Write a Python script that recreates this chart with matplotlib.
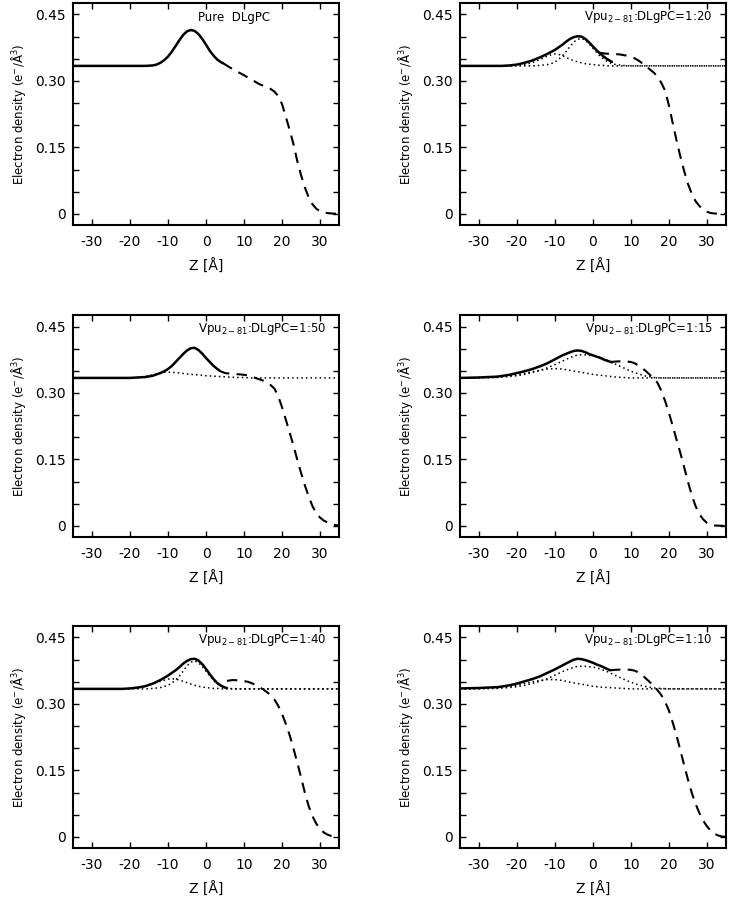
import matplotlib
matplotlib.use("Agg")
import matplotlib.pyplot as plt
from matplotlib.ticker import MultipleLocator, FixedLocator

plt.rcParams['font.family'] = ['DejaVu Sans']
plt.rcParams['axes.unicode_minus'] = False

# ---------------- data ----------------
# Panel 1 : Pure DLgPC
z_head_pure = [-35, -16, -14, -13, -12, -11, -10, -9, -8, -7, -6, -5, -4, -3, -2, -1, 0, 1, 2, 3, 4, 4.5]
rho_head_pure = [.334, .334, .335, .337, .341, .347, .355, .366, .379, .392, .404, .412, .415, .413, .406, .395, .382, .368, .357, .348, .342, .340]
z_water_pure = [4.5, 6, 8, 10, 12, 14, 16, 17, 18, 19, 20, 21, 22, 23, 24, 25, 26, 27, 28, 29, 30, 31, 32, 33, 35]
rho_water_pure = [.340, .332, .322, .313, .303, .293, .286, .282, .276, .266, .248, .219, .190, .158, .120, .088, .060, .038, .022, .012, .006, .003, .002, .001, 0]

# Panel 2 : 1:20
z_head_20 = [-35, -24, -22, -20, -18, -16, -14, -12, -10, -8, -7, -6, -5, -4, -3, -2, -1, 0, 1, 2, 3, 4, 5]
rho_head_20 = [.334, .334, .335, .337, .341, .346, .353, .361, .370, .382, .389, .395, .399, .401, .400, .395, .387, .378, .369, .361, .354, .348, .343]
z_water_20 = [1.5, 3, 5, 7, 9, 10, 11, 12, 13, 14, 15, 16, 17, 18, 19, 20, 21, 22, 23, 24, 25, 26, 27, 28, 29, 30, 31, 32, 35]
rho_water_20 = [.364, .362, .361, .360, .357, .355, .351, .346, .340, .333, .326, .319, .310, .296, .278, .245, .205, .166, .130, .097, .068, .046, .029, .018, .010, .005, .002, .001, 0]
z_dot_20 = [-35, -22, -20, -18, -16, -14, -12, -11, -10, -9, -8, -7, -6, -5, -4, -3, -2, -1, 0, 1, 2, 3, 4, 5, 6, 8, 10, 35]
rho_prot_20 = [.334, .334, .335, .337, .341, .348, .356, .359, .361, .360, .357, .353, .349, .346, .343, .341, .339, .338, .337, .336, .335, .335, .334, .334, .334, .334, .334, .334]
rho_lip_20 = [.334, .334, .334, .334, .334, .335, .337, .339, .343, .349, .357, .367, .378, .388, .394, .396, .392, .384, .374, .364, .355, .348, .343, .339, .337, .335, .334, .334]

# Panel 3 : 1:50
z_head_50 = [-35, -20, -16, -14, -12, -11, -10, -9, -8, -7, -6, -5, -4, -3, -2, -1, 0, 1, 2, 3, 3.5]
rho_head_50 = [.334, .334, .336, .339, .345, .349, .354, .361, .370, .379, .388, .396, .401, .402, .397, .389, .379, .370, .361, .354, .351]
z_water_50 = [3.5, 5, 7, 9, 11, 12, 13, 14, 15, 16, 17, 18, 19, 20, 21, 22, 23, 24, 25, 26, 27, 28, 29, 30, 31, 32, 33, 34, 35]
rho_water_50 = [.350, .345, .343, .342, .340, .337, .334, .331, .328, .324, .318, .310, .293, .268, .240, .211, .182, .150, .120, .092, .067, .045, .029, .019, .012, .008, .005, .002, .001]
z_dot_50 = [-35, -20, -18, -16, -14, -12, -11, -10, -8, -6, -4, -2, 0, 2, 4, 6, 8, 10, 12, 35]
rho_prot_50 = [.334, .334, .335, .337, .341, .346, .347, .347, .346, .344, .342, .341, .339, .338, .337, .336, .335, .335, .334, .334]

# Panel 4 : 1:15
z_head_15 = [-35, -30, -25, -22, -20, -18, -16, -14, -12, -10, -8, -6, -5, -4, -3, -2, -1, 0, 1, 2, 3, 4, 5]
rho_head_15 = [.334, .335, .337, .341, .345, .349, .354, .360, .367, .376, .385, .392, .395, .396, .395, .392, .388, .385, .382, .379, .375, .372, .369]
z_water_15 = [4.5, 6, 8, 10, 11, 12, 13, 14, 15, 16, 17, 18, 19, 20, 21, 22, 23, 24, 25, 26, 27, 28, 29, 30, 31, 32, 35]
rho_water_15 = [.370, .371, .372, .370, .367, .362, .356, .349, .341, .333, .323, .305, .282, .255, .226, .195, .165, .133, .100, .070, .045, .027, .015, .007, .003, .001, 0]
z_dot_15 = [-35, -30, -25, -22, -20, -18, -16, -14, -12, -10, -8, -6, -4, -2, 0, 2, 4, 6, 8, 10, 12, 14, 16, 18, 20, 35]
rho_prot_15 = [.334, .335, .337, .339, .341, .344, .348, .351, .354, .355, .354, .351, .348, .345, .342, .340, .338, .336, .335, .334, .334, .334, .334, .334, .334, .334]
rho_lip_15 = [.334, .334, .335, .337, .339, .342, .346, .351, .357, .364, .372, .380, .386, .386, .384, .380, .373, .365, .357, .349, .343, .338, .335, .334, .334, .334]

# Panel 5 : 1:40
z_head_40 = [-35, -22, -20, -18, -16, -14, -12, -10, -8, -7, -6, -5, -4, -3, -2, -1, 0, 1, 2, 3, 4, 5, 5.5]
rho_head_40 = [.334, .334, .335, .337, .340, .346, .354, .364, .376, .383, .391, .397, .401, .402, .398, .390, .379, .367, .356, .347, .341, .337, .336]
z_water_40 = [5.5, 7, 9, 11, 12, 13, 14, 15, 16, 17, 18, 19, 20, 21, 22, 23, 24, 25, 26, 27, 28, 29, 30, 31, 32, 33, 34, 35]
rho_water_40 = [.352, .354, .353, .350, .347, .343, .338, .333, .327, .320, .310, .296, .278, .255, .230, .200, .168, .135, .100, .070, .047, .030, .018, .010, .005, .002, .001, 0]
z_dot_40 = [-35, -22, -20, -18, -16, -14, -12, -10, -9, -8, -7, -6, -5, -4, -3, -2, -1, 0, 1, 2, 3, 4, 5, 6, 8, 35]
rho_prot_40 = [.334, .334, .335, .337, .340, .345, .351, .356, .357, .356, .354, .351, .348, .345, .342, .340, .338, .337, .336, .335, .335, .334, .334, .334, .334, .334]
rho_lip_40 = [.334, .334, .334, .334, .334, .335, .337, .342, .347, .354, .363, .374, .386, .394, .397, .393, .385, .374, .363, .353, .345, .340, .337, .335, .334, .334]

# Panel 6 : 1:10
z_head_10 = [-35, -30, -25, -22, -20, -18, -16, -14, -12, -10, -8, -6, -5, -4, -3, -2, -1, 0, 1, 2, 3, 4, 4.5]
rho_head_10 = [.335, .336, .338, .342, .346, .351, .356, .362, .370, .378, .387, .396, .400, .402, .401, .399, .396, .393, .389, .386, .382, .378, .376]
z_water_10 = [4.5, 6, 8, 10, 11, 12, 13, 14, 15, 16, 17, 18, 19, 20, 21, 22, 23, 24, 25, 26, 27, 28, 29, 30, 31, 32, 33, 34, 35]
rho_water_10 = [.376, .377, .378, .377, .375, .371, .365, .357, .349, .340, .331, .320, .305, .285, .258, .229, .196, .162, .130, .100, .075, .054, .037, .024, .014, .007, .003, .001, 0]
z_dot_10 = [-35, -30, -25, -22, -20, -18, -16, -14, -12, -10, -8, -6, -4, -2, 0, 2, 4, 6, 8, 10, 12, 14, 16, 18, 20, 35]
rho_prot_10 = [.334, .335, .337, .340, .342, .346, .350, .353, .355, .355, .353, .349, .346, .343, .340, .338, .337, .336, .335, .334, .334, .334, .334, .334, .334, .334]
rho_lip_10 = [.334, .334, .335, .337, .339, .342, .346, .351, .357, .365, .373, .380, .385, .385, .383, .379, .372, .364, .356, .349, .343, .339, .336, .335, .334, .334]

labels = ["Pure  DLgPC",
          r"Vpu$_{\mathregular{2-81}}$:DLgPC=1:20",
          r"Vpu$_{\mathregular{2-81}}$:DLgPC=1:50",
          r"Vpu$_{\mathregular{2-81}}$:DLgPC=1:15",
          r"Vpu$_{\mathregular{2-81}}$:DLgPC=1:40",
          r"Vpu$_{\mathregular{2-81}}$:DLgPC=1:10"]

panels = [
    (z_head_pure, rho_head_pure, z_water_pure, rho_water_pure, None, []),
    (z_head_20, rho_head_20, z_water_20, rho_water_20, z_dot_20, [rho_prot_20, rho_lip_20]),
    (z_head_50, rho_head_50, z_water_50, rho_water_50, z_dot_50, [rho_prot_50]),
    (z_head_15, rho_head_15, z_water_15, rho_water_15, z_dot_15, [rho_prot_15, rho_lip_15]),
    (z_head_40, rho_head_40, z_water_40, rho_water_40, z_dot_40, [rho_prot_40, rho_lip_40]),
    (z_head_10, rho_head_10, z_water_10, rho_water_10, z_dot_10, [rho_prot_10, rho_lip_10]),
]

x_ticks = [-30, -20, -10, 0, 10, 20, 30]
y_ticks = [0, 0.15, 0.30, 0.45]
y_ticklabels = ["0", "0.15", "0.30", "0.45"]

# ---------------- figure ----------------
fig = plt.figure(figsize=(7.3, 9.0), dpi=100)
lefts = [0.100, 0.630]
bottoms = [0.750, 0.4033, 0.0578]
W, H = 0.3644, 0.2467

for i, (zh, rh, zw, rw, zd, dots) in enumerate(panels):
    r, c = divmod(i, 2)
    ax = fig.add_axes([lefts[c], bottoms[r], W, H])
    for rd in dots:
        ax.plot(zd, rd, color='black', lw=1.1, linestyle=(0, (1, 2)))
    ax.plot(zh, rh, color='black', lw=1.8, solid_capstyle='round')
    ax.plot(zw, rw, color='black', lw=1.5, linestyle=(0, (5, 3.5)))

    ax.set_xlim(-35, 35)
    ax.set_ylim(-0.025, 0.476)
    ax.xaxis.set_major_locator(FixedLocator(x_ticks))
    ax.set_yticks(y_ticks)
    ax.set_yticklabels(y_ticklabels)
    ax.yaxis.set_minor_locator(MultipleLocator(0.05))
    ax.tick_params(which='both', direction='in', top=True, right=True,
                   length=4, width=1.0, labelsize=10)
    ax.tick_params(axis='x', pad=7)
    ax.tick_params(axis='y', pad=5)
    for s in ax.spines.values():
        s.set_linewidth(1.5)

    ax.set_xlabel("Z [Å]", fontsize=10)
    ax.xaxis.set_label_coords(0.5, -0.15)
    ax.xaxis.label.set_va('top')
    ax.set_ylabel(r"Electron density (e$^{-}$/Å$^{3}$)", fontsize=8.5)
    ax.yaxis.set_label_coords(-0.17, 0.5)

    if i == 0:
        ax.text(0.605, 0.935, labels[i], transform=ax.transAxes,
                ha='center', va='center', fontsize=8.5)
    else:
        ax.text(0.95, 0.935, labels[i], transform=ax.transAxes,
                ha='right', va='center', fontsize=8.5)

fig.savefig("out.png", dpi=100)
